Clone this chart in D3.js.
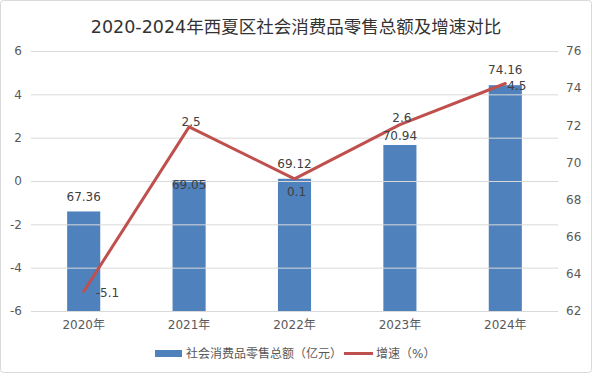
<!DOCTYPE html>
<html>
<head>
<meta charset="utf-8">
<script src="https://cdn.jsdelivr.net/npm/d3@7"></script>
<style>
    body { margin: 0; background: #fff; }
    svg { display: block; font-family: "DejaVu Sans", "Noto Sans CJK SC", sans-serif; }
</style>
</head>
<body>
<div id="container"></div>
<script>
// data
const years = ["2020年", "2021年", "2022年", "2023年", "2024年"];
const sales = [67.36, 69.05, 69.12, 70.94, 74.16];   // 社会消费品零售总额（亿元）
const growth = [-5.1, 2.5, 0.1, 2.6, 4.5];            // 增速（%）
const leftTicks = [-6, -4, -2, 0, 2, 4, 6];
const rightTicks = [62, 64, 66, 68, 70, 72, 74, 76];

const width = 592;
const height = 374;
const marginLeft = 31;
const marginRight = 34;
const marginTop = 51;
const plotBottom = 311;

const blue = "#4f81bd";
const red = "#c0504d";
const grid = "#d9d9d9";
const tickColor = "#595959";
const labelColor = "#404040";

// label nudges (px) so labels sit like in the original
const barLabelDy = [-15, 5, -15, -9, -15];
const lineLabelPos = [
    {dx: 12, dy: 1, anchor: "start"},
    {dx: 2, dy: -5, anchor: "middle"},
    {dx: 2, dy: 13, anchor: "middle"},
    {dx: 2, dy: -7, anchor: "middle"},
    {dx: 2, dy: 2, anchor: "start"}
];

const x = d3.scaleBand()
    .domain(years)
    .range([marginLeft, width - marginRight])
    .paddingInner(0.686)
    .paddingOuter(0.343);

const yLeft = d3.scaleLinear().domain([-6, 6]).range([plotBottom, marginTop]);
const yRight = d3.scaleLinear().domain([62, 76]).range([plotBottom, marginTop]);

const cx = d => x(d) + x.bandwidth() / 2;

const svg = d3.create("svg")
    .attr("width", width)
    .attr("height", height)
    .attr("viewBox", [0, 0, width, height]);

// outer frame
svg.append("rect")
    .attr("x", 0.5).attr("y", 0.5)
    .attr("width", width - 1).attr("height", height - 2)
    .attr("rx", 3)
    .attr("fill", "#fff")
    .attr("stroke", grid);

// title
svg.append("text")
    .attr("x", width / 2)
    .attr("y", 33)
    .attr("text-anchor", "middle")
    .attr("font-size", 17.5)
    .attr("font-weight", 400)
    .attr("fill", "#333")
    .text("2020-2024年西夏区社会消费品零售总额及增速对比");

// bars (right axis)
svg.append("g")
    .attr("fill", blue)
    .selectAll("rect")
    .data(sales)
    .join("rect")
    .attr("x", (d, i) => x(years[i]))
    .attr("y", d => yRight(d))
    .attr("width", x.bandwidth())
    .attr("height", d => yRight(62) - yRight(d));

// gridlines, drawn over the bars like the original
svg.append("g")
    .attr("transform", `translate(${marginLeft},0)`)
    .call(d3.axisLeft(yLeft).tickValues(leftTicks).tickSize(-(width - marginRight - marginLeft)).tickFormat(""))
    .call(g => g.select(".domain").remove())
    .call(g => g.selectAll(".tick line").attr("stroke", grid));

// left axis labels
svg.append("g")
    .attr("transform", `translate(${marginLeft},0)`)
    .call(d3.axisLeft(yLeft).tickValues(leftTicks).tickSize(0).tickPadding(9).tickFormat(d => String(d)))
    .call(g => g.select(".domain").remove())
    .call(g => g.selectAll("text")
        .attr("fill", tickColor)
        .attr("font-size", 12)
        .attr("font-family", "DejaVu Sans, sans-serif"));

// right axis labels
svg.append("g")
    .attr("transform", `translate(${width - marginRight},0)`)
    .call(d3.axisRight(yRight).tickValues(rightTicks).tickSize(0).tickPadding(8))
    .call(g => g.select(".domain").remove())
    .call(g => g.selectAll("text")
        .attr("fill", tickColor)
        .attr("font-size", 12)
        .attr("font-family", "DejaVu Sans, sans-serif"));

// category axis
svg.append("g")
    .attr("transform", `translate(0,${plotBottom})`)
    .call(d3.axisBottom(x).tickSize(0).tickPadding(9))
    .call(g => g.select(".domain").remove())
    .call(g => g.selectAll("text")
        .attr("fill", tickColor)
        .attr("font-size", 12)
        .attr("font-family", "DejaVu Sans, Noto Sans CJK SC, sans-serif"));

// growth line (left axis)
const line = d3.line()
    .x((d, i) => cx(years[i]))
    .y(d => yLeft(d));

svg.append("path")
    .datum(growth)
    .attr("fill", "none")
    .attr("stroke", red)
    .attr("stroke-width", 3)
    .attr("stroke-linejoin", "round")
    .attr("stroke-linecap", "round")
    .attr("d", line);

// bar value labels
svg.append("g")
    .attr("font-size", 12)
    .attr("fill", labelColor)
    .attr("text-anchor", "middle")
    .selectAll("text")
    .data(sales)
    .join("text")
    .attr("x", (d, i) => cx(years[i]))
    .attr("y", (d, i) => yRight(d) + barLabelDy[i])
    .attr("dy", "0.35em")
    .text(d => d.toFixed(2));

// growth value labels
svg.append("g")
    .attr("font-size", 12)
    .attr("fill", labelColor)
    .selectAll("text")
    .data(growth)
    .join("text")
    .attr("x", (d, i) => cx(years[i]) + lineLabelPos[i].dx)
    .attr("y", (d, i) => yLeft(d) + lineLabelPos[i].dy)
    .attr("dy", "0.35em")
    .attr("text-anchor", (d, i) => lineLabelPos[i].anchor)
    .text(d => d);

// legend
const legend = svg.append("g")
    .attr("font-size", 12)
    .attr("fill", tickColor);

legend.append("rect")
    .attr("x", 155).attr("y", 350)
    .attr("width", 27).attr("height", 7)
    .attr("fill", blue);

legend.append("text")
    .attr("x", 186).attr("y", 353.5)
    .attr("dy", "0.35em")
    .text("社会消费品零售总额（亿元）");

legend.append("line")
    .attr("x1", 344).attr("x2", 373)
    .attr("y1", 353.5).attr("y2", 353.5)
    .attr("stroke", red)
    .attr("stroke-width", 3);

legend.append("text")
    .attr("x", 376).attr("y", 353.5)
    .attr("dy", "0.35em")
    .text("增速（%）");

document.getElementById("container").append(svg.node());
</script>
</body>
</html>
